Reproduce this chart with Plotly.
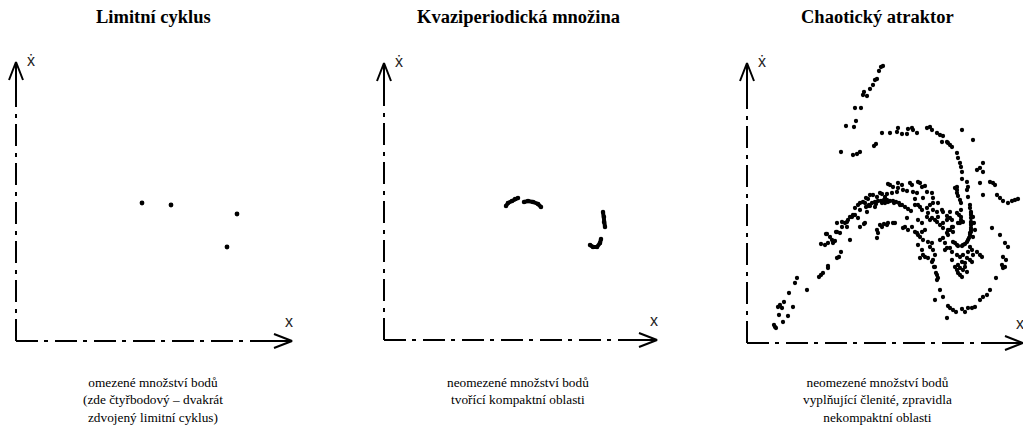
import plotly.graph_objects as go

W, H = 1023, 437

# ---- text ----
titles = ["Limitní cyklus", "Kvaziperiodická množina", "Chaotický atraktor"]
captions = [
    "omezené množství bodů<br>(zde čtyřbodový – dvakrát<br>zdvojený limitní cyklus)",
    "neomezené množství bodů<br>tvořící kompaktní oblasti",
    "neomezené množství bodů<br>vyplňující členité, zpravidla<br>nekompaktní oblasti",
]

# ---- data (phase plane x / x-dot, arbitrary units) ----
# four-point (twice doubled) limit cycle
cycle_x = [126, 155, 221, 211]
cycle_v = [138, 136, 127, 94]

# quasi-periodic set: four short arcs, None separates the pieces
quasi_x = [122, 124, 128, 131, 134, None, 140, 144, 149, 154, 157, None,
           219, 220, 220, 221, None, 217, 216, 213, 209, 206]
quasi_v = [134, 137, 139, 141, 142, None, 138, 139, 138, 136, 133, None,
           128, 123, 118, 113, None, 101, 97, 93, 93, 95]

# chaotic attractor: Poincaré section points (x, x-dot)
chaos_points = [
    # upper-left streak
    (136, 277), (134, 276), (132, 272), (130, 264), (128, 263), (126, 258), (123, 254),
    (117, 251), (116, 248), (120, 247), (114, 235), (108, 235), (109, 222), (107, 216),
    (99, 217), (94, 191), (106, 188), (110, 189), (113, 191), (127, 197), (129, 199),
    # upper arch
    (135, 210), (143, 210), (150, 211), (151, 215), (155, 209), (160, 209), (161, 214),
    (165, 215), (166, 213), (170, 210), (180, 215), (183, 216), (185, 213), (190, 210),
    (193, 208), (196, 207), (195, 201), (200, 201), (201, 200), (203, 198), (205, 196),
    (215, 213), (226, 203), (210, 190), (211, 185), (213, 180), (214, 176), (215, 171),
    (215, 164), (210, 156), (210, 153), (211, 147), (213, 143), (214, 140), (214, 133),
    (214, 126), (213, 120), (220, 161), (220, 153), (221, 146), (221, 156),
    # right-hand loop
    (230, 173), (233, 175), (236, 180), (236, 171), (233, 160), (243, 161), (246, 160),
    (248, 158), (236, 148), (250, 148), (253, 145), (256, 142), (261, 140), (265, 142),
    (268, 143), (271, 144), (245, 115), (253, 108), (258, 100), (261, 96), (256, 86),
    (259, 83), (255, 78), (256, 75), (258, 76), (249, 65), (243, 53), (240, 48),
    (236, 46), (233, 43), (228, 36), (225, 35), (221, 35), (218, 31), (215, 34),
    (209, 31), (206, 33), (203, 35), (201, 37), (200, 25), (196, 46), (188, 43),
    (193, 53), (190, 63), (190, 68), (191, 65), (188, 76), (186, 83), (189, 70),
    # J-shaped fold
    (223, 135), (224, 131), (224, 128), (224, 125), (224, 121), (224, 118), (224, 115),
    (224, 111), (223, 108), (222, 105), (220, 101), (218, 99), (215, 97), (211, 97),
    (208, 100), (206, 101), (223, 138), (224, 130), (224, 120), (224, 113), (223, 110),
    (221, 103), (216, 98), (210, 98), (226, 126), (227, 120), (228, 113), (226, 106),
    (212, 128), (214, 123), (208, 155), (210, 150),
    # below the fold
    (223, 96), (225, 93), (221, 91), (226, 88), (230, 91), (235, 86), (216, 88),
    (213, 86), (210, 88), (205, 83), (215, 81), (218, 80), (211, 78), (208, 76),
    (213, 75), (216, 73), (220, 71), (211, 70), (215, 66), (225, 81), (223, 83),
    (205, 91), (200, 95), (198, 100), (196, 105), (201, 108), (193, 103), (198, 93),
    (203, 95), (220, 85), (233, 88), (213, 68), (210, 73), (218, 76),
    # central cloud
    (143, 158), (146, 156), (151, 160), (151, 155), (156, 153), (160, 152), (163, 160),
    (165, 158), (166, 151), (170, 150), (171, 161), (173, 160), (175, 156), (178, 157),
    (180, 151), (185, 150), (186, 145), (186, 140), (176, 145), (168, 144), (168, 138),
    (173, 136), (175, 133), (180, 135), (183, 138), (181, 130), (186, 133), (190, 131),
    (195, 133), (196, 131), (200, 127), (203, 125), (191, 126), (190, 121), (183, 123),
    (171, 123), (160, 125), (146, 120), (140, 118), (135, 116), (158, 116), (161, 113),
    (175, 120), (168, 111), (175, 111), (178, 113), (171, 138), (191, 140), (180, 126),
    (185, 125), (188, 123), (193, 118), (196, 120), (200, 123), (205, 116), (206, 111),
    (201, 113), (170, 110), (173, 106), (176, 103), (181, 101), (185, 100), (186, 93),
    (188, 88), (171, 98), (175, 93), (176, 88), (178, 86), (181, 85), (183, 96),
    (173, 85), (185, 81), (187, 76), (156, 115), (165, 116), (171, 108), (196, 115),
    (200, 110), (203, 113), (206, 116), (211, 120), (216, 121), (203, 131), (205, 123),
    (210, 130), (155, 158), (150, 151), (140, 149), (145, 150), (135, 149), (138, 146),
    (130, 146), (126, 148), (121, 144), (118, 140),
    # dense arc
    (119, 136), (122, 138), (125, 140), (128, 141), (131, 142), (134, 142), (137, 143),
    (140, 143), (143, 142), (146, 142), (149, 141), (152, 140), (155, 138), (158, 136),
    (161, 134), (164, 132), (123, 137), (129, 139), (135, 140), (141, 141), (147, 140),
    (153, 138),
    # lower-left branch
    (28, 16), (29, 15), (27, 18), (36, 21), (41, 27), (32, 28), (46, 36), (37, 41),
    (31, 36), (35, 35), (33, 38), (42, 50), (48, 60), (50, 65), (60, 53), (72, 66),
    (74, 68), (76, 70), (81, 75), (81, 77), (90, 85), (92, 86), (94, 91), (74, 99),
    (78, 98), (81, 100), (79, 109), (85, 103), (86, 100), (88, 102), (90, 111),
    (93, 110), (95, 116), (98, 120), (100, 121), (103, 103), (101, 123), (105, 126),
    (108, 128), (111, 125), (113, 116), (118, 120), (113, 140), (116, 141), (119, 145),
    (123, 148), (133, 150), (141, 159), (121, 137), (128, 136), (138, 140), (130, 113),
    (131, 110), (130, 105), (133, 118), (137, 119), (141, 120), (120, 131), (90, 120),
    (95, 121), (111, 138), (108, 135), (113, 133), (106, 128), (103, 126), (117, 119),
    (100, 116), (80, 109), (83, 106), (148, 120), (89, 111),
]
chaos_x = [p[0] for p in chaos_points]
chaos_v = [p[1] for p in chaos_points]

# ---- panel geometry (pixels): axis origin and axis lengths ----
origin_x = [16, 384, 747]
origin_y = [341, 340, 343]
len_x = [276, 273, 276]
len_y = [279, 277, 280]
title_cx = [153, 518, 877]
PAD = 14

SERIF = "'Liberation Serif', 'Times New Roman', Times, serif"
SANS = "'Liberation Sans', Arial, Helvetica, sans-serif"

fig = go.Figure()
layout_axes = {}

DASH = "22px,6px,4px,7px"
LINE_W = 2
HEAD_L, HEAD_W, SHAFT = 18, 7, 36

for i in range(3):
    sfx = "" if i == 0 else str(i + 1)
    xa, ya = "x" + sfx, "y" + sfx
    ox, oy, lx, ly = origin_x[i], origin_y[i], len_x[i], len_y[i]

    d0 = (ox - PAD) / W
    d1 = min(1.0, (ox + lx + PAD) / W)
    yb = (H - (oy + PAD)) / H
    yt = (H - (oy - ly - PAD)) / H
    layout_axes["xaxis" + sfx] = dict(domain=[d0, d1], range=[d0 * W - ox, d1 * W - ox],
                                       visible=False, anchor=ya, fixedrange=True)
    layout_axes["yaxis" + sfx] = dict(domain=[yb, yt], range=[-PAD, ly + PAD],
                                       visible=False, anchor=xa, fixedrange=True)

    line_style = dict(color="black", width=LINE_W)
    # dash-dot axes
    fig.add_trace(go.Scatter(x=[0, lx], y=[0, 0], mode="lines", xaxis=xa, yaxis=ya,
                             line=dict(color="black", width=LINE_W, dash=DASH)))
    fig.add_trace(go.Scatter(x=[0, 0], y=[0, ly], mode="lines", xaxis=xa, yaxis=ya,
                             line=dict(color="black", width=LINE_W, dash=DASH)))
    # solid shafts and open arrow heads
    fig.add_trace(go.Scatter(
        x=[lx - SHAFT, lx, None, lx - HEAD_L, lx, lx - HEAD_L],
        y=[0, 0, None, HEAD_W, 0, -HEAD_W],
        mode="lines", xaxis=xa, yaxis=ya, line=line_style))
    fig.add_trace(go.Scatter(
        x=[0, 0, None, -HEAD_W, 0, HEAD_W],
        y=[ly - SHAFT, ly, None, ly - HEAD_L, ly, ly - HEAD_L],
        mode="lines", xaxis=xa, yaxis=ya, line=line_style))

# data marks
fig.add_trace(go.Scatter(x=cycle_x, y=cycle_v, mode="markers", xaxis="x", yaxis="y",
                         marker=dict(color="black", size=4.8, line=dict(width=0))))
fig.add_trace(go.Scatter(x=quasi_x, y=quasi_v, mode="lines+markers", xaxis="x2", yaxis="y2",
                         line=dict(color="black", width=4), connectgaps=False,
                         marker=dict(color="black", size=4.5, line=dict(width=0))))
fig.add_trace(go.Scatter(x=chaos_x, y=chaos_v, mode="markers", xaxis="x3", yaxis="y3",
                         cliponaxis=False,
                         marker=dict(color="black", size=4.3, line=dict(width=0))))

annotations = []
for i in range(3):
    annotations.append(dict(
        text="<b>" + titles[i] + "</b>", x=title_cx[i] / W, y=1 - 17 / H,
        xref="paper", yref="paper", xanchor="center", yanchor="middle", showarrow=False,
        font=dict(family=SERIF, size=18.5, color="black")))
    annotations.append(dict(
        text=captions[i], x=title_cx[i] / W, y=1 - 373 / H,
        xref="paper", yref="paper", xanchor="center", yanchor="top", showarrow=False,
        align="center", font=dict(family=SERIF, size=13.3, color="black")))
    ox, oy, lx, ly = origin_x[i], origin_y[i], len_x[i], len_y[i]
    annotations.append(dict(
        text="ẋ", x=(ox + 15) / W, y=1 - (oy - ly - 2) / H,
        xref="paper", yref="paper", xanchor="center", yanchor="middle", showarrow=False,
        font=dict(family=SANS, size=16, color="#222")))
    annotations.append(dict(
        text="x", x=(ox + lx - 3) / W, y=1 - (oy - 20) / H,
        xref="paper", yref="paper", xanchor="center", yanchor="middle", showarrow=False,
        font=dict(family=SANS, size=16, color="#222")))

fig.update_layout(
    width=W, height=H, autosize=False,
    margin=dict(l=0, r=0, t=0, b=0, pad=0),
    paper_bgcolor="white", plot_bgcolor="white",
    showlegend=False, annotations=annotations,
    **layout_axes,
)

fig.write_html("out.html", config={"displayModeBar": False})
